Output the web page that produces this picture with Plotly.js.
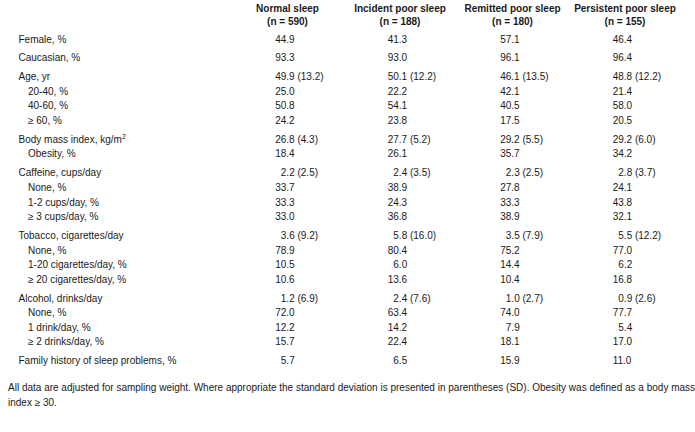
<!DOCTYPE html>
<html>
<head>
<meta charset="utf-8">
<script src="https://cdn.plot.ly/plotly-3.0.1.min.js"></script>
<style>html,body{margin:0;padding:0;background:#fff;}</style>
</head>
<body>
<div id="chart" style="width:695px;height:432px;"></div>
<script>
// ---- data ----
var columns = ["Normal sleep", "Incident poor sleep", "Remitted poor sleep", "Persistent poor sleep"];
var groupSizes = [590, 188, 180, 155];

var rowLabels = ["Female, %", "Caucasian, %", "Age, yr", "20-40, %", "40-60, %", "\u2265 60, %",
  "Body mass index, kg/m<sup>2</sup>", "Obesity, %",
  "Caffeine, cups/day", "None, %", "1-2 cups/day, %", "\u2265 3 cups/day, %",
  "Tobacco, cigarettes/day", "None, %", "1-20 cigarettes/day, %", "\u2265 20 cigarettes/day, %",
  "Alcohol, drinks/day", "None, %", "1 drink/day, %", "\u2265 2 drinks/day, %",
  "Family history of sleep problems, %"];
var rowIsSub = [0,0,0,1,1,1,0,1,0,1,1,1,0,1,1,1,0,1,1,1,0];
var rowGroup = [0,1,2,2,2,2,3,3,4,4,4,4,5,5,5,5,6,6,6,6,7];

var normalSleep = ["44.9","93.3","49.9 (13.2)","25.0","50.8","24.2","26.8 (4.3)","18.4",
  "2.2 (2.5)","33.7","33.3","33.0","3.6 (9.2)","78.9","10.5","10.6",
  "1.2 (6.9)","72.0","12.2","15.7","5.7"];
var incidentPoor = ["41.3","93.0","50.1 (12.2)","22.2","54.1","23.8","27.7 (5.2)","26.1",
  "2.4 (3.5)","38.9","24.3","36.8","5.8 (16.0)","80.4","6.0","13.6",
  "2.4 (7.6)","63.4","14.2","22.4","6.5"];
var remittedPoor = ["57.1","96.1","46.1 (13.5)","42.1","40.5","17.5","29.2 (5.5)","35.7",
  "2.3 (2.5)","27.8","33.3","38.9","3.5 (7.9)","75.2","14.4","10.4",
  "1.0 (2.7)","74.0","7.9","18.1","15.9"];
var persistentPoor = ["46.4","96.4","48.8 (12.2)","21.4","58.0","20.5","29.2 (6.0)","34.2",
  "2.8 (3.7)","24.1","43.8","32.1","5.5 (12.2)","77.0","6.2","16.8",
  "0.9 (2.6)","77.7","5.4","17.0","11.0"];

var footnoteLines = [
  "All data are adjusted for sampling weight. Where appropriate the standard deviation is presented in parentheses (SD). Obesity was defined as a body mass",
  "index \u2265 30."
];

// ---- layout helpers (row/column placement) ----
var W = 695, H = 432;
var FONT = "Liberation Sans, Arial, sans-serif";
var TXT = "#1a1a1a";
var rowStep = 14.6, groupGap = 4.25, firstRowY = 40;
var labelX = 18.5, subIndent = 9.5;
var colCenter0 = 287.5, colStep = 112.5, valueOffset = -12.3, digitW = 5.6;

function rowY(i) { return firstRowY + i * rowStep + rowGroup[i] * groupGap; }

var traces = [];

// row labels
traces.push({
  type: "scatter", mode: "text",
  x: rowLabels.map(function (_, i) { return labelX + (rowIsSub[i] ? subIndent : 0); }),
  y: rowLabels.map(function (_, i) { return rowY(i); }),
  text: rowLabels, textposition: "middle right",
  textfont: { family: FONT, size: 10, color: TXT },
  hoverinfo: "skip", cliponaxis: false
});

// column headers
traces.push({
  type: "scatter", mode: "text",
  x: columns.map(function (_, c) { return colCenter0 + c * colStep; }),
  y: columns.map(function () { return 16.3; }),
  text: columns.map(function (c, k) { return "<b>" + c + "<br>(n = " + groupSizes[k] + ")</b>"; }),
  textposition: "middle center",
  textfont: { family: FONT, size: 10, color: TXT },
  hoverinfo: "skip", cliponaxis: false
});

// values
[normalSleep, incidentPoor, remittedPoor, persistentPoor].forEach(function (vals, c) {
  traces.push({
    type: "scatter", mode: "text",
    x: vals.map(function (v) {
      var lead = parseFloat(v) < 10 ? digitW : 0;   // single-digit values are padded by one figure
      return colCenter0 + c * colStep + valueOffset + lead;
    }),
    y: vals.map(function (_, i) { return rowY(i); }),
    text: vals, textposition: "middle right",
    textfont: { family: FONT, size: 10, color: TXT },
    hoverinfo: "skip", cliponaxis: false
  });
});

// footnote
traces.push({
  type: "scatter", mode: "text",
  x: footnoteLines.map(function () { return 8; }),
  y: footnoteLines.map(function (_, i) { return 388.5 + i * 15; }),
  text: footnoteLines, textposition: "middle right",
  textfont: { family: FONT, size: 10, color: TXT },
  hoverinfo: "skip", cliponaxis: false
});

var layout = {
  width: W, height: H,
  margin: { l: 0, r: 0, t: 0, b: 0, pad: 0 },
  paper_bgcolor: "#ffffff", plot_bgcolor: "#ffffff",
  showlegend: false,
  xaxis: { range: [0, W], visible: false, fixedrange: true },
  yaxis: { range: [H, 0], visible: false, fixedrange: true }
};

Plotly.newPlot("chart", traces, layout, { displayModeBar: false, staticPlot: true });
</script>
</body>
</html>
